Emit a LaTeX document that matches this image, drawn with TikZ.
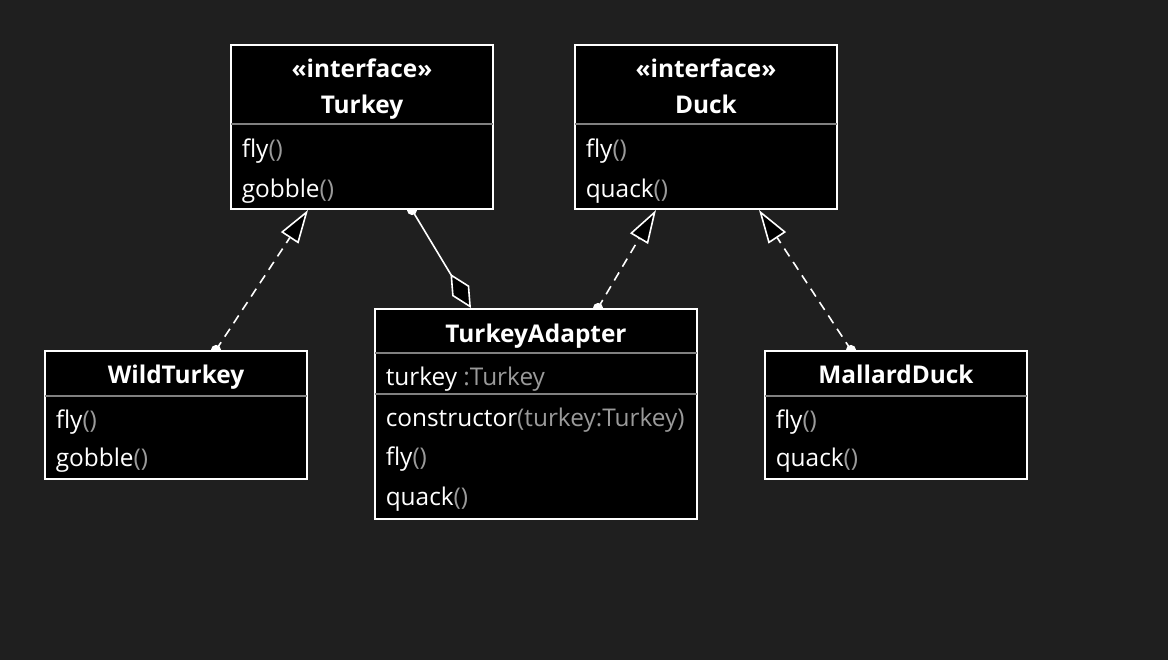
\documentclass[tikz,border=0pt]{standalone}
\usepackage{fontspec}
\setmainfont{Open Sans}
\usetikzlibrary{arrows.meta,calc,fit,backgrounds}
\definecolor{canvas}{HTML}{1F1F1F}
\definecolor{rulegray}{HTML}{808080}
\definecolor{typegray}{HTML}{9A9A9A}
\newcommand{\tp}[1]{\textcolor{typegray}{#1}}
\tikzset{
   classbox/.style={draw=white, fill=black, line width=1.5pt, inner sep=0pt},
   rule/.style={draw=rulegray, line width=1.5pt, shorten <=0.75pt, shorten >=0.75pt},
   member/.style={anchor=base west, inner sep=0pt, text=white, font=\fontsize{18.3}{21}\selectfont},
   title/.style={anchor=base, inner sep=0pt, text=white, font=\fontsize{18.3}{21}\selectfont\bfseries},
   realize/.style={draw=white, line width=1.2pt, dash pattern=on 7pt off 5pt,
      -{Triangle[length=25pt, width=15.5pt, fill=black, line width=1.2pt]}},
   aggregate/.style={draw=white, line width=1.2pt,
      -{Diamond[length=30pt, width=15pt, fill=black, line width=1.2pt]}},
   dot/.style={fill=white}
}
\begin{document}
\begin{tikzpicture}[x=0.75pt, y=-0.75pt]
   \useasboundingbox (0,0) rectangle (1168,660);
   \def \Boxes {
      turkey/231/45/493/209,
      duck/575/45/837/209,
      wild/45/351/307/479,
      adapter/375/309/697/519,
      mallard/765/351/1027/479}
   \def \Rules {
      turkey/80,
      duck/80,
      wild/46,
      adapter/45,
      adapter/86,
      mallard/46}
   \def \Titles {
      tk-stereo/turkey/33.5/«interface»,
      tk-name/turkey/69.5/Turkey,
      dk-stereo/duck/33.5/«interface»,
      dk-name/duck/69.5/Duck,
      wt-name/wild/33/WildTurkey,
      ad-name/adapter/34/TurkeyAdapter,
      md-name/mallard/33/MallardDuck}
   \def \Members {
      tk-fly/turkey/113/fly\tp{()},
      tk-gobble/turkey/153/gobble\tp{()},
      dk-fly/duck/113/fly\tp{()},
      dk-quack/duck/153/quack\tp{()},
      wt-fly/wild/78.5/fly\tp{()},
      wt-gobble/wild/116/gobble\tp{()},
      ad-turkey/adapter/77.5/turkey \tp{:Turkey},
      ad-ctor/adapter/118/constructor\tp{(turkey:Turkey)},
      ad-fly/adapter/157.5/fly\tp{()},
      ad-quack/adapter/197.5/quack\tp{()},
      md-fly/mallard/78.5/fly\tp{()},
      md-quack/mallard/116/quack\tp{()}}
   \foreach \n / \xa / \ya / \xb / \yb in \Boxes {
      \node[classbox, fit={(\xa,\ya) (\xb,\yb)}] (\n) {};
   }
   \foreach \n / \d in \Rules {
      \draw[rule] ($(\n.north west)+(0,\d)$) -- ($(\n.north east)+(0,\d)$);
   }
   \foreach \id / \n / \d / \t in \Titles {
      \node[title] (\id) at ($(\n.north)+(0,\d)$) {\t};
   }
   \foreach \id / \n / \d / \t in \Members {
      \node[member] (\id) at ($(\n.north west)+(11.5,\d)$) {\t};
   }
   % connector ends
   \coordinate (wt-top) at ($(wild.north west)+(172,0)$);
   \coordinate (tk-real) at ($(turkey.south west)+(78,0)$);
   \coordinate (tk-own) at ($(turkey.south west)+(182,0)$);
   \coordinate (ad-agg) at ($(adapter.north west)+(97,0)$);
   \coordinate (ad-top) at ($(adapter.north west)+(224,0)$);
   \coordinate (dk-real1) at ($(duck.south west)+(82,0)$);
   \coordinate (md-top) at ($(mallard.north west)+(87,0)$);
   \coordinate (dk-real2) at ($(duck.south west)+(185,0)$);
   \begin{scope}[on background layer]
      \fill[canvas] (0,0) rectangle (1168,660);
      \draw[realize] (wt-top) -- (tk-real);
      \draw[aggregate] (tk-own) -- (ad-agg);
      \draw[realize] (ad-top) -- (dk-real1);
      \draw[realize] (md-top) -- (dk-real2);
      \foreach \c in {wt-top, tk-own, ad-top, md-top} {
         \fill[dot] (\c) circle (3.8pt);
      }
   \end{scope}
\end{tikzpicture}
\end{document}
